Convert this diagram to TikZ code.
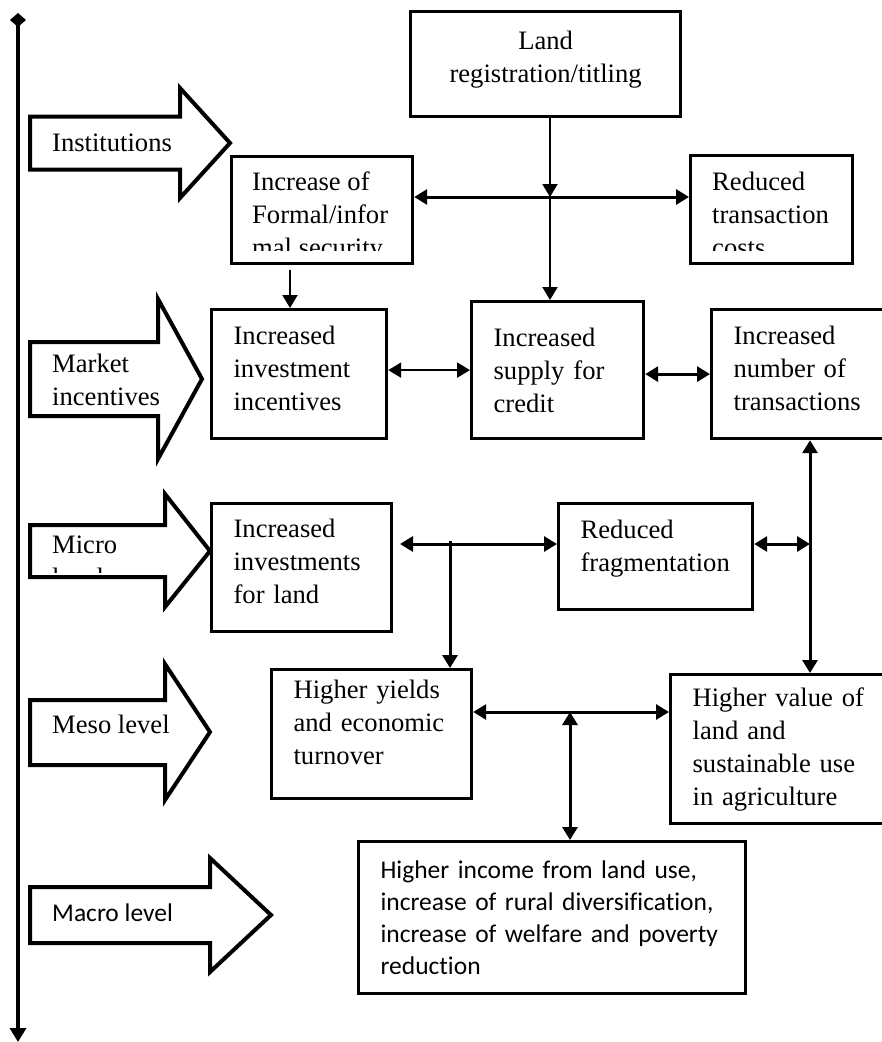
\documentclass[tikz,border=0pt]{standalone}
\usepackage{fontspec}
\setmainfont{Liberation Serif}
\newfontfamily\calibrifont[Ligatures=NoCommon]{Carlito}
\usetikzlibrary{arrows.meta}

\newcommand{\serifsize}{\fontsize{26.6}{33}\selectfont}
\newcommand{\sanssize}{\calibrifont\fontsize{25.5}{32}\selectfont}
% empty last line, lifts the text in its box
\newcommand{\lift}[1]{\\[#1]\mbox{}}

\tikzset{
  >={Triangle[length=13pt,width=15pt]},
  stage/.style={draw, line width=3.2pt, anchor=north west, align=left,
    inner xsep=22pt, inner ysep=0pt, font=\serifsize},
  cliptext/.style={anchor=north west, align=left, inner sep=0pt, font=\serifsize},
  levelarrow/.style={draw, line width=4pt, miter limit=20},
  levellabel/.style={anchor=west, align=left, inner sep=0pt, font=\serifsize},
  link/.style={line width=3pt},
  thinlink/.style={line width=2pt}
}

\begin{document}
\begin{tikzpicture}[x=1pt,y=-1pt]
        \clip (0,0) rectangle (882,1042);
        % time axis
        \draw[line width=3.5pt,{Diamond[length=14pt,width=16pt]}-{Triangle[length=14pt,width=16pt]}] (18,13) -- (18,1042);
        % level arrows
        \draw[levelarrow] (30,116.5) -- (180,116.5) -- (180,88) -- (230,143) -- (180,198) -- (180,169.5) -- (30,169.5) -- cycle;
        \draw[levelarrow] (30,342) -- (158,342) -- (158,299) -- (202,379) -- (158,459) -- (158,416) -- (30,416) -- cycle;
        \draw[levelarrow] (30,525) -- (165,525) -- (165,494) -- (210,551) -- (165,607) -- (165,577) -- (30,577) -- cycle;
        \draw[levelarrow] (30,700) -- (165,700) -- (165,664) -- (210,732) -- (165,800) -- (165,765) -- (30,765) -- cycle;
        \draw[levelarrow] (30,887) -- (210,887) -- (210,858) -- (271,915) -- (210,972) -- (210,943) -- (30,943) -- cycle;
        \node[levellabel] (institutions) at (52,143) {Institutions};
        \node[levellabel] (market) at (52,380) {Market\\incentives};
        \begin{scope}
          \clip (32,527) rectangle (163,572);
          \node[cliptext] (micro) at (52,536) {Micro\\level};
        \end{scope}
        \node[levellabel] (meso) at (52,724) {Meso level};
        \node[levellabel, font=\sanssize] (macro) at (52,913) {Macro level};
        % boxes
        \node[stage, text width=226pt, align=center, minimum height=105pt] (land) at (409,10) {Land\\registration/titling\lift{-19pt}};
        \node[stage, minimum width=181pt, minimum height=107pt] (formal) at (230,155) {};
        \begin{scope}
          \clip (232,157) rectangle (409,250);
          \node[cliptext] (formaltext) at (252,172) {Increase of\\Formal/infor\\mal security};
        \end{scope}
        \node[stage, minimum width=162pt, minimum height=108pt] (costs) at (689,154) {};
        \begin{scope}
          \clip (691,156) rectangle (849,250);
          \node[cliptext] (coststext) at (712,172) {Reduced\\transaction\\costs};
        \end{scope}
        \node[stage, text width=131pt, minimum height=129pt] (incentives) at (210,308) {Increased\\investment\\incentives\lift{-21pt}};
        \node[stage, text width=128pt, minimum height=137pt] (credit) at (470,300) {Increased\\supply for\\credit};
        \node[stage, text width=141pt, minimum height=129pt] (transactions) at (710,308) {Increased\\number of\\transactions\lift{-21pt}};
        \node[stage, text width=136pt, minimum height=128pt] (invest) at (210,502) {Increased\\investments\\for land\lift{-21pt}};
        \node[stage, text width=150pt, minimum height=106pt] (frag) at (557,502) {Reduced\\fragmentation\lift{-11pt}};
        \node[stage, text width=156pt, minimum height=129pt] (yields) at (270,668) {Higher yields\\and economic\\turnover\lift{-9pt}};
        \node[stage, text width=182pt, minimum height=149pt] (value) at (669,673) {Higher value of\\land and\\sustainable use\\in agriculture};
        \node[stage, text width=343pt, minimum height=152pt, font=\sanssize] (income) at (357,840) {Higher income from land use,\\increase of rural diversification,\\increase of welfare and poverty\\reduction};
        % junctions
        \coordinate (j1) at (550,197);
        \coordinate (f1) at (290,270);
        \coordinate (v1) at (810,544);
        \coordinate (j2) at (400,544);
        \coordinate (j3) at (450,541);
        \coordinate (j4) at (570,712);
        % connectors
        \draw[thinlink,->] (j1 |- land.south) -- (j1);
        \draw[thinlink,->] (j1) -- (j1 |- credit.north);
        \draw[link,<->] (formal.east |- j1) -- (costs.west |- j1);
        \draw[thinlink,->] (f1) -- (f1 |- incentives.north);
        \draw[thinlink,<->] (incentives.east |- credit.west) -- (credit.west);
        \draw[link,<->] (credit.east |- transactions.west) -- (transactions.west);
        \draw[link,<->] (v1 |- transactions.south) -- (v1 |- value.north);
        \draw[link,<->] (frag.east |- v1) -- (v1);
        \draw[link,<->] (j2) -- (j2 -| frag.west);
        \draw[link,->] (j3) -- (j3 |- yields.north);
        \draw[link,<->] (j4 -| yields.east) -- (j4 -| value.west);
        \draw[link,<->] (j4) -- (j4 |- income.north);
\end{tikzpicture}
\end{document}
